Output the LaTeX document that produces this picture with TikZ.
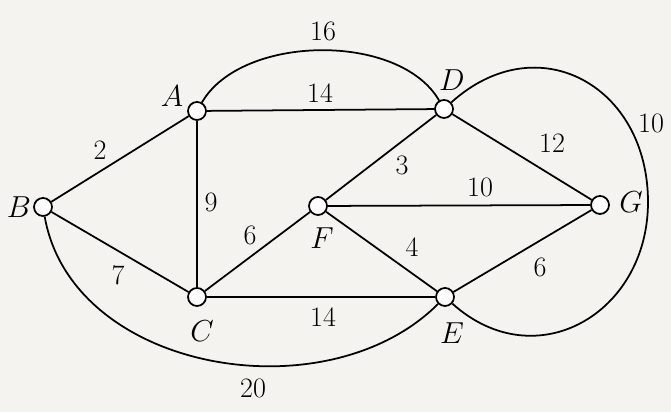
\documentclass[tikz,border=0pt]{standalone}
\usepackage{amsmath}
\usetikzlibrary{positioning}

\definecolor{paper}{RGB}{244,243,239}

\tikzset{
    vertex/.style={circle, draw, fill=white, minimum size=0.36cm, inner sep=0pt},
    wt/.style={font=\fontsize{16}{18}\selectfont, inner sep=1pt},
    lbl/.style={font=\fontsize{16}{18}\selectfont, inner sep=1pt}
}

\begin{document}
\begin{tikzpicture}[line width=1pt]
        % Paper
        \fill[paper] (0,0) rectangle (13.42,8.24);
        \useasboundingbox (0,0) rectangle (13.42,8.24);

        % Vertices
        \node[vertex] (A) at (3.94,6.02) {};
        \node[vertex] (B) at (0.86,4.10) {};
        \node[vertex] (C) at (3.94,2.30) {};
        \node[vertex] (F) at (6.36,4.12) {};
        \node[vertex] (D) at (8.88,6.06) {};
        \node[vertex] (G) at (12.00,4.14) {};
        \node[vertex] (E) at (8.90,2.30) {};
        \coordinate (loopR) at (12.96,4.20);

        % Vertex names
        \node[lbl] (Aname) at (3.44,6.32) {$A$};
        \node[lbl] (Bname) at (0.38,4.10) {$B$};
        \node[lbl] (Cname) at (4.04,1.62) {$C$};
        \node[lbl] (Fname) at (6.44,3.48) {$F$};
        \node[lbl] (Dname) at (9.04,6.64) {$D$};
        \node[lbl] (Gname) at (12.62,4.20) {$G$};
        \node[lbl] (Ename) at (9.04,1.58) {$E$};

        % Straight edges
        \draw (A) -- (B);
        \draw (B) -- (C);
        \draw (A) -- (C);
        \draw (A) -- (D);
        \draw (C) -- (F);
        \draw (F) -- (D);
        \draw (D) -- (G);
        \draw (F) -- (G);
        \draw (F) -- (E);
        \draw (C) -- (E);
        \draw (E) -- (G);

        % Curved edges
        \draw (A) to[out=60, in=120, looseness=0.85] (D);
        \draw (B) to[out=-80, in=-135, looseness=1.0] (E);
        \draw (D) to[out=42, in=90, looseness=1.35] (loopR)
                  to[out=-90, in=-42, looseness=1.3] (E);

        % Weights
        \node[wt] (wAB) at (2.00,5.24) {2};
        \node[wt] (wBC) at (2.36,2.74) {7};
        \node[wt] (wAC) at (4.22,4.20) {9};
        \node[wt] (wAD) at (6.40,6.38) {14};
        \node[wt] (wADc) at (6.46,7.62) {16};
        \node[wt] (wCF) at (5.00,3.54) {6};
        \node[wt] (wFD) at (8.04,4.94) {3};
        \node[wt] (wDG) at (11.04,5.38) {12};
        \node[wt] (wFG) at (9.60,4.50) {10};
        \node[wt] (wFE) at (8.24,3.30) {4};
        \node[wt] (wCE) at (6.46,1.90) {14};
        \node[wt] (wEG) at (10.80,2.90) {6};
        \node[wt] (wBE) at (5.06,0.48) {20};
        \node[wt] (wDE) at (13.02,5.78) {10};
\end{tikzpicture}
\end{document}
